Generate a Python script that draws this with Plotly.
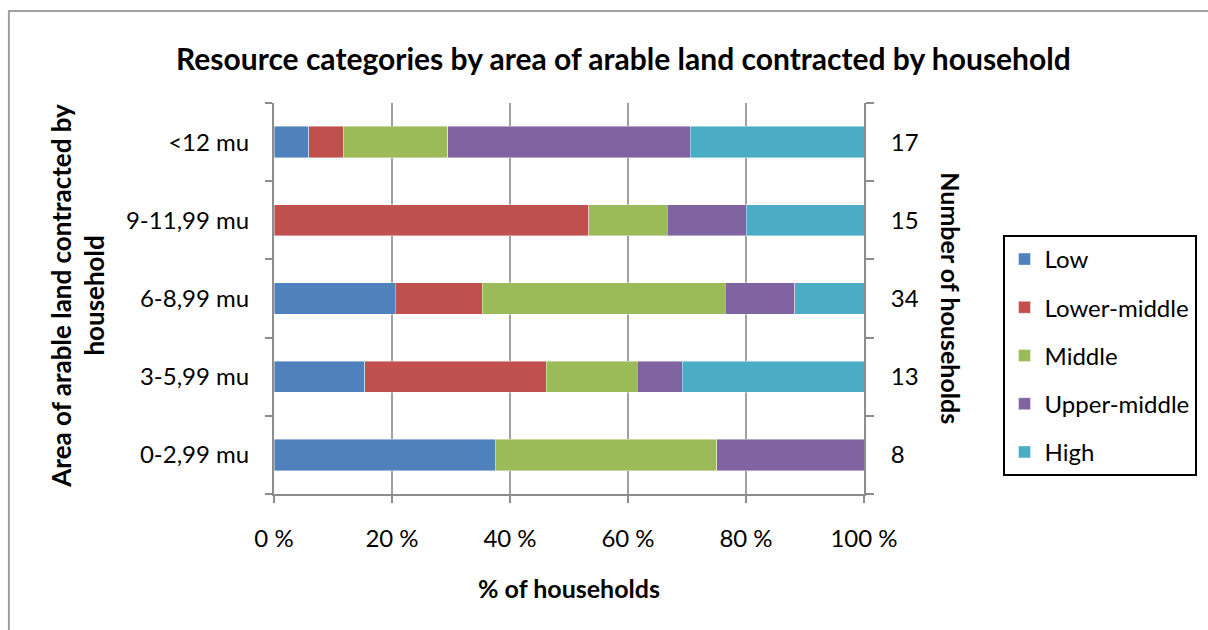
import plotly.graph_objects as go

# Area classes, bottom to top
categories = ["0-2,99 mu", "3-5,99 mu", "6-8,99 mu", "9-11,99 mu", "<12 mu"]
# Households per class (right-hand labels)
households = [8, 13, 34, 15, 17]

# Household counts per resource category within each area class
levels = ["Low", "Lower-middle", "Middle", "Upper-middle", "High"]
low = [3, 2, 7, 0, 1]
lower_middle = [0, 4, 5, 8, 1]
middle = [3, 2, 14, 2, 3]
upper_middle = [2, 1, 4, 2, 7]
high = [0, 4, 4, 3, 5]

colors = ["#4F81BD", "#C0504D", "#9BBB59", "#8064A2", "#4BACC6"]

FONT = "Lato"
W, H = 1208, 630
L, R, T, B = 274, 342, 103, 136
PW, PH = W - L - R, H - T - B


def px_x(x):
    return (x - L) / PW


def px_y(y):
    return (H - B - y) / PH


fig = go.Figure()
series = [low, lower_middle, middle, upper_middle, high]
for i, (name, counts) in enumerate(zip(levels, series)):
    shares = [c / n * 100 for c, n in zip(counts, households)]
    fig.add_trace(go.Bar(
        x=shares, y=categories, orientation="h", name=name,
        marker=dict(color=colors[i], line=dict(width=0.6, color="rgba(255,255,255,0.7)")),
        legendgroup=name,
    ))

# invisible companion trace carrying the right-hand axis
fig.add_trace(go.Scatter(
    x=[None] * len(categories), y=categories, yaxis="y2", mode="markers",
    marker=dict(opacity=0), showlegend=False, hoverinfo="skip",
))

axis_grey = "#8C8C8C"
fig.update_layout(
    width=W, height=H,
    margin=dict(l=L, r=R, t=T, b=B),
    paper_bgcolor="white", plot_bgcolor="white",
    barmode="stack", bargap=0.6,
    font=dict(family=FONT, size=24, color="#000000"),
    xaxis=dict(
        range=[0, 100], tickvals=[0, 20, 40, 60, 80, 100],
        ticktext=["0 %", "20 %", "40 %", "60 %", "80 %", "100 %"],
        showgrid=True, gridcolor="#A0A0A0", gridwidth=2,
        showline=True, linecolor=axis_grey, linewidth=2,
        ticks="outside", ticklen=7, tickwidth=2, tickcolor=axis_grey,
        ticklabelstandoff=15, zeroline=False,
        tickfont=dict(size=24),
        title=dict(text="<b>% of households</b>", font=dict(size=25), standoff=30),
    ),
    yaxis=dict(
        categoryorder="array", categoryarray=categories,
        showline=True, linecolor=axis_grey, linewidth=2,
        ticks="outside", tickson="boundaries", ticklen=7, tickwidth=2, tickcolor=axis_grey,
        ticklabelstandoff=18, showgrid=False, zeroline=False,
        tickfont=dict(size=24),
    ),
    yaxis2=dict(
        overlaying="y", side="right", matches="y",
        categoryorder="array", categoryarray=categories,
        tickmode="array", tickvals=categories, ticktext=[str(n) for n in households],
        showline=True, linecolor=axis_grey, linewidth=2,
        ticks="outside", tickson="boundaries", ticklen=8, tickwidth=2, tickcolor=axis_grey,
        ticklabelstandoff=20, showgrid=False, zeroline=False,
        tickfont=dict(size=24),
    ),
    legend=dict(
        x=px_x(1005), y=px_y(235), xanchor="left", yanchor="top",
        bordercolor="#000000", borderwidth=2, bgcolor="white",
        traceorder="grouped", tracegroupgap=14,
        font=dict(size=24),
    ),
    showlegend=True,
)

fig.add_annotation(
    text="<b>Resource categories by area of arable land contracted by household</b>",
    xref="paper", yref="paper", x=px_x(625), y=px_y(58),
    showarrow=False, font=dict(size=30), xanchor="center", yanchor="middle",
)
fig.add_annotation(
    text="<b>Area of arable land contracted by<br>household</b>",
    xref="paper", yref="paper", x=px_x(77), y=px_y(296),
    showarrow=False, textangle=-90, font=dict(size=26), xanchor="center", yanchor="middle",
)
fig.add_annotation(
    text="<b>Number of households</b>",
    xref="paper", yref="paper", x=px_x(953), y=px_y(298),
    showarrow=False, textangle=90, font=dict(size=25), xanchor="center", yanchor="middle",
)

# chart-area frame
fig.add_shape(
    type="rect", xref="paper", yref="paper",
    x0=px_x(8), x1=px_x(1230), y0=px_y(11), y1=px_y(660),
    line=dict(color="#A0A0A0", width=2), fillcolor="rgba(0,0,0,0)", layer="below",
)

fig.write_html("out.html")
